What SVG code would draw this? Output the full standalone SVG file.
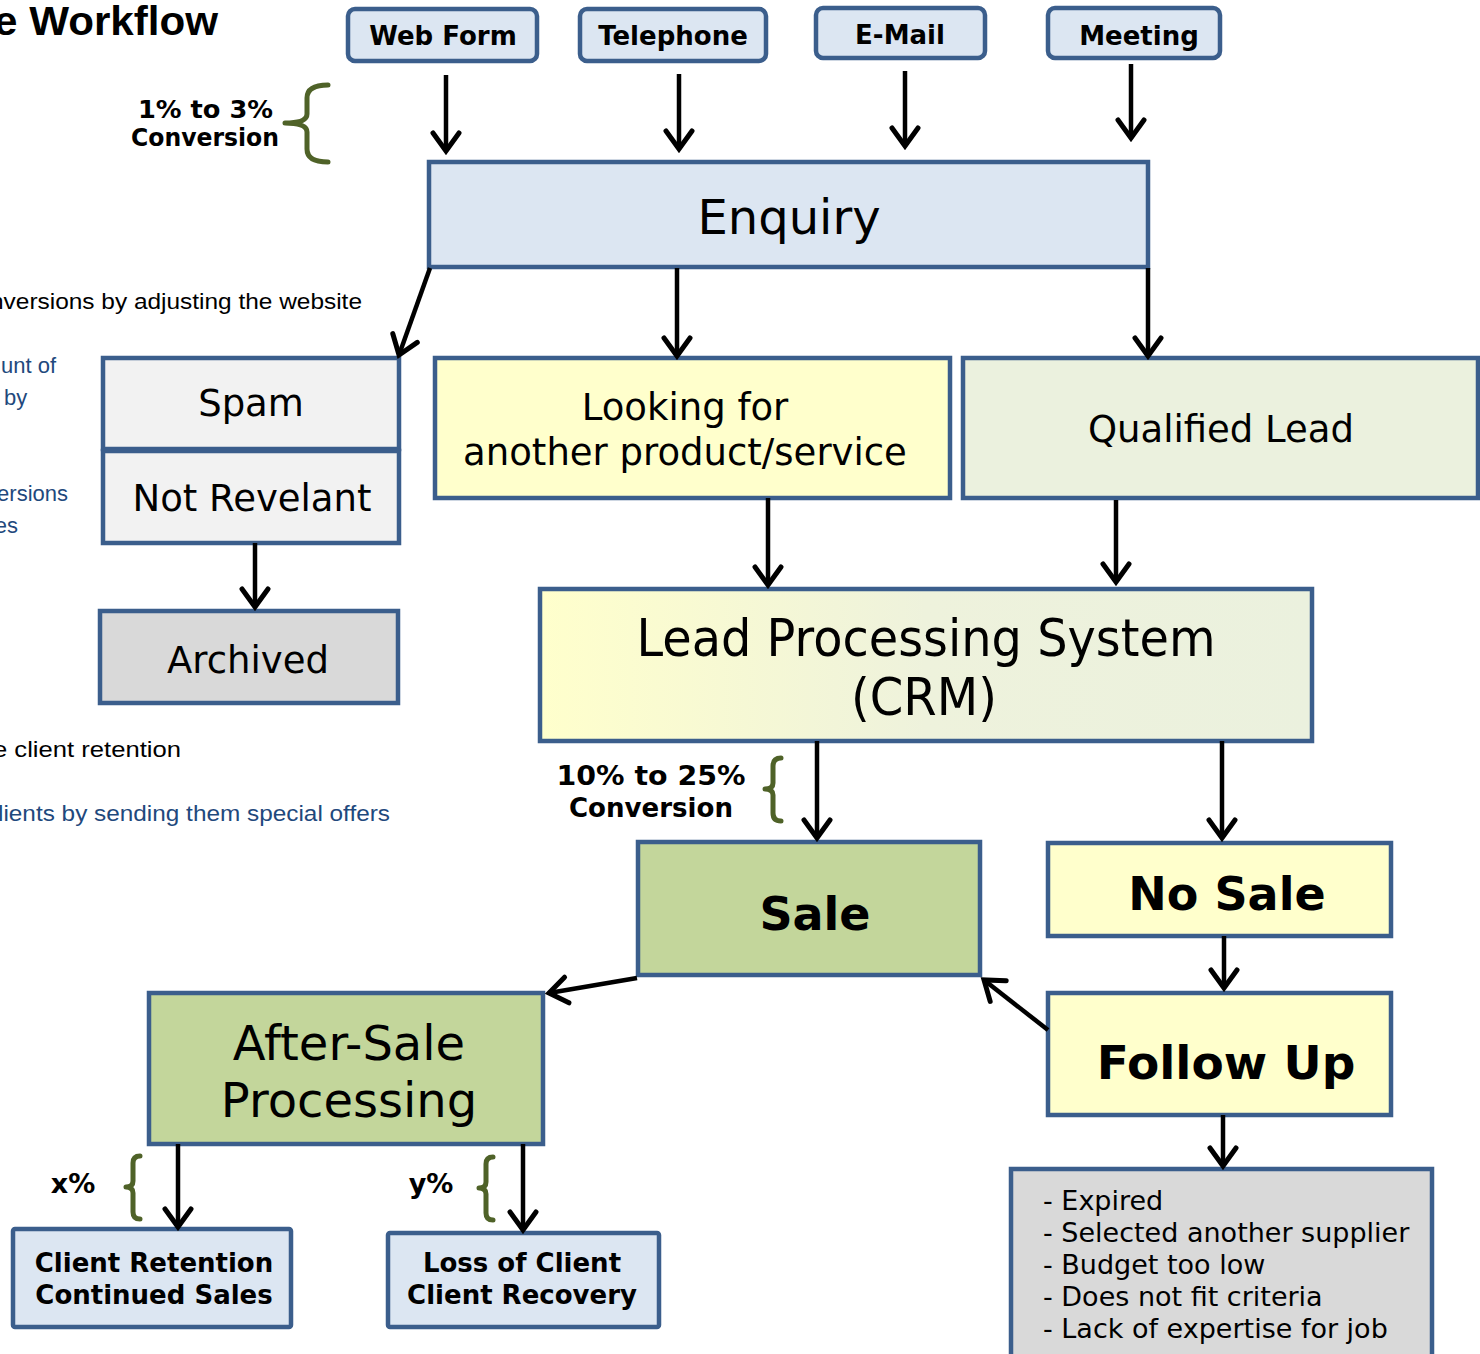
<svg xmlns="http://www.w3.org/2000/svg" width="1480" height="1354" viewBox="0 0 1480 1354">
<defs>
<marker id="ah" markerUnits="userSpaceOnUse" markerWidth="44" markerHeight="44" viewBox="-22 -22 44 44" refX="0" refY="0" orient="auto">
<path d="M-18,-13 L0,0 L-18,13" fill="none" stroke="#000" stroke-width="5" stroke-linecap="round" stroke-linejoin="miter"/>
</marker>
<linearGradient id="lps" x1="0" y1="0" x2="1" y2="0">
<stop offset="0" stop-color="#ffffcc"/>
<stop offset="0.5" stop-color="#eef2dc"/>
<stop offset="1" stop-color="#ebf1de"/>
</linearGradient>
<style>
.box{stroke:#3b5e8c;stroke-width:4.5}
.src{fill:#dce6f2;stroke:#3b5e8c;stroke-width:4.5}
.v{font-family:"DejaVu Sans",Verdana,sans-serif;fill:#000}
.vb{font-family:"DejaVu Sans",Verdana,sans-serif;font-weight:bold;fill:#000}
.c{font-family:"Liberation Sans",Arial,sans-serif}
.conn line{stroke:#000;stroke-width:4.5;marker-end:url(#ah)}
.brace{fill:none;stroke:#4f6228;stroke-width:5;stroke-linecap:round;stroke-linejoin:round}
</style>
</defs>
<rect width="1480" height="1354" fill="#fff"/>

<!-- background cut-off texts -->
<g id="bg-text" class="c">
<text x="218" y="35" text-anchor="end" font-size="40" font-weight="bold" fill="#000" textLength="224" lengthAdjust="spacingAndGlyphs">e Workflow</text>
<text x="362" y="309" text-anchor="end" font-size="22" fill="#000" textLength="372" lengthAdjust="spacingAndGlyphs">nversions by adjusting the website</text>
<text x="56" y="373" text-anchor="end" font-size="22" fill="#1f497d">unt of</text>
<text x="4" y="405" font-size="22" fill="#1f497d">by</text>
<text x="68" y="501" text-anchor="end" font-size="22" fill="#1f497d">ersions</text>
<text x="18" y="533" text-anchor="end" font-size="22" fill="#1f497d">es</text>
<text x="181" y="757" text-anchor="end" font-size="22" fill="#000" textLength="188" lengthAdjust="spacingAndGlyphs">e client retention</text>
<text x="390" y="821" text-anchor="end" font-size="22" fill="#1f497d" textLength="392" lengthAdjust="spacingAndGlyphs">lients by sending them special offers</text>
</g>

<!-- braces and conversion labels -->
<g id="brace-1">
<path class="brace" d="M328,85 Q307,85 307,98 L307,114 Q307,123 285,123 Q307,123 307,132 L307,149 Q307,162 328,162"/>
<text class="vb" x="273" y="118" text-anchor="end" font-size="25" textLength="135" lengthAdjust="spacingAndGlyphs">1% to 3%</text>
<text class="vb" x="279" y="146" text-anchor="end" font-size="24" textLength="148" lengthAdjust="spacingAndGlyphs">Conversion</text>
</g>
<g id="brace-2">
<path class="brace" d="M781,758 Q773,758 773,766 L773,783 Q773,789 765,789 Q773,789 773,795 L773,813 Q773,821 781,821"/>
<text class="vb" x="651" y="785" text-anchor="middle" font-size="26" textLength="189" lengthAdjust="spacingAndGlyphs">10% to 25%</text>
<text class="vb" x="651" y="817" text-anchor="middle" font-size="26" textLength="164" lengthAdjust="spacingAndGlyphs">Conversion</text>
</g>
<g id="brace-x">
<path class="brace" d="M140,1156 Q133,1156 133,1163 L133,1181 Q133,1187 126,1187 Q133,1187 133,1193 L133,1212 Q133,1219 140,1219"/>
<text class="vb" x="73" y="1193" text-anchor="middle" font-size="27">x%</text>
</g>
<g id="brace-y">
<path class="brace" d="M493,1157 Q486,1157 486,1164 L486,1182 Q486,1188 479,1188 Q486,1188 486,1194 L486,1213 Q486,1220 493,1220"/>
<text class="vb" x="431" y="1193" text-anchor="middle" font-size="27">y%</text>
</g>

<!-- source nodes -->
<g id="web-form"><rect class="src" x="348" y="9" width="189" height="52" rx="7"/><text class="vb" x="443" y="45" text-anchor="middle" font-size="26">Web Form</text></g>
<g id="telephone"><rect class="src" x="580" y="9" width="186" height="52" rx="7"/><text class="vb" x="673" y="45" text-anchor="middle" font-size="26">Telephone</text></g>
<g id="e-mail"><rect class="src" x="816" y="8" width="169" height="50" rx="7"/><text class="vb" x="900" y="44" text-anchor="middle" font-size="26">E-Mail</text></g>
<g id="meeting"><rect class="src" x="1048" y="8" width="172" height="50" rx="7"/><text class="vb" x="1139" y="45" text-anchor="middle" font-size="26">Meeting</text></g>

<!-- main nodes -->
<g id="enquiry"><rect class="box" x="429" y="162" width="719" height="105" fill="#dce6f2"/><text class="v" x="789" y="234" text-anchor="middle" font-size="48">Enquiry</text></g>
<g id="spam"><rect class="box" x="103" y="358" width="296" height="91" fill="#f2f2f2"/><text class="v" x="251" y="416" text-anchor="middle" font-size="37">Spam</text></g>
<g id="not-relevant"><rect class="box" x="103" y="451" width="296" height="92" fill="#f2f2f2"/><text class="v" x="252" y="511" text-anchor="middle" font-size="37">Not Revelant</text></g>
<g id="archived"><rect class="box" x="100" y="611" width="298" height="92" fill="#d9d9d9"/><text class="v" x="248" y="673" text-anchor="middle" font-size="37">Archived</text></g>
<g id="looking-for"><rect class="box" x="435" y="358" width="515" height="140" fill="#ffffcc"/><text class="v" x="685" y="420" text-anchor="middle" font-size="37">Looking for</text><text class="v" x="685" y="465" text-anchor="middle" font-size="37">another product/service</text></g>
<g id="qualified-lead"><rect class="box" x="963" y="358" width="515" height="140" fill="#ebf1de"/><text class="v" x="1221" y="442" text-anchor="middle" font-size="37">Qualified Lead</text></g>
<g id="lead-processing"><rect class="box" x="540" y="589" width="772" height="152" fill="url(#lps)"/><text class="v" x="926" y="656" text-anchor="middle" font-size="52" textLength="579" lengthAdjust="spacingAndGlyphs">Lead Processing System</text><text class="v" x="924" y="715" text-anchor="middle" font-size="52" textLength="146" lengthAdjust="spacingAndGlyphs">(CRM)</text></g>
<g id="sale"><rect class="box" x="638" y="842" width="342" height="133" fill="#c3d69b"/><text class="vb" x="815" y="930" text-anchor="middle" font-size="46">Sale</text></g>
<g id="no-sale"><rect class="box" x="1048" y="843" width="343" height="93" fill="#ffffcc"/><text class="vb" x="1227" y="910" text-anchor="middle" font-size="46">No Sale</text></g>
<g id="follow-up"><rect class="box" x="1048" y="993" width="343" height="122" fill="#ffffcc"/><text class="vb" x="1226" y="1079" text-anchor="middle" font-size="47">Follow Up</text></g>
<g id="after-sale"><rect class="box" x="149" y="993" width="394" height="151" fill="#c3d69b"/><text class="v" x="349" y="1060" text-anchor="middle" font-size="48">After-Sale</text><text class="v" x="349" y="1117" text-anchor="middle" font-size="48">Processing</text></g>
<g id="client-retention"><rect class="src" x="13" y="1229" width="278" height="98" rx="2"/><text class="vb" x="154" y="1272" text-anchor="middle" font-size="26">Client Retention</text><text class="vb" x="154" y="1304" text-anchor="middle" font-size="26">Continued Sales</text></g>
<g id="loss-of-client"><rect class="src" x="388" y="1233" width="271" height="94" rx="2"/><text class="vb" x="522" y="1272" text-anchor="middle" font-size="26">Loss of Client</text><text class="vb" x="522" y="1304" text-anchor="middle" font-size="26">Client Recovery</text></g>
<g id="reasons"><rect class="box" x="1011" y="1169" width="421" height="200" fill="#d9d9d9"/>
<text class="v" font-size="27"><tspan x="1043" y="1210">- Expired</tspan><tspan x="1043" y="1242">- Selected another supplier</tspan><tspan x="1043" y="1274">- Budget too low</tspan><tspan x="1043" y="1306">- Does not fit criteria</tspan><tspan x="1043" y="1338">- Lack of expertise for job</tspan></text></g>

<!-- connectors -->
<g id="connectors" class="conn">
<line x1="446" y1="75" x2="446" y2="151"/>
<line x1="679" y1="74" x2="679" y2="149"/>
<line x1="905" y1="71" x2="905" y2="146"/>
<line x1="1131" y1="64" x2="1131" y2="138"/>
<line x1="430" y1="268" x2="399" y2="355"/>
<line x1="677" y1="268" x2="677" y2="356"/>
<line x1="1148" y1="268" x2="1148" y2="356"/>
<line x1="255" y1="543" x2="255" y2="607"/>
<line x1="768" y1="498" x2="768" y2="585"/>
<line x1="1116" y1="500" x2="1116" y2="582"/>
<line x1="817" y1="741" x2="817" y2="838"/>
<line x1="1222" y1="741" x2="1222" y2="838"/>
<line x1="1224" y1="936" x2="1224" y2="988"/>
<line x1="1048" y1="1030" x2="984" y2="980"/>
<line x1="637" y1="978" x2="549" y2="993"/>
<line x1="178" y1="1144" x2="178" y2="1227"/>
<line x1="523" y1="1144" x2="523" y2="1230"/>
<line x1="1223" y1="1115" x2="1223" y2="1166"/>
</g>
</svg>
